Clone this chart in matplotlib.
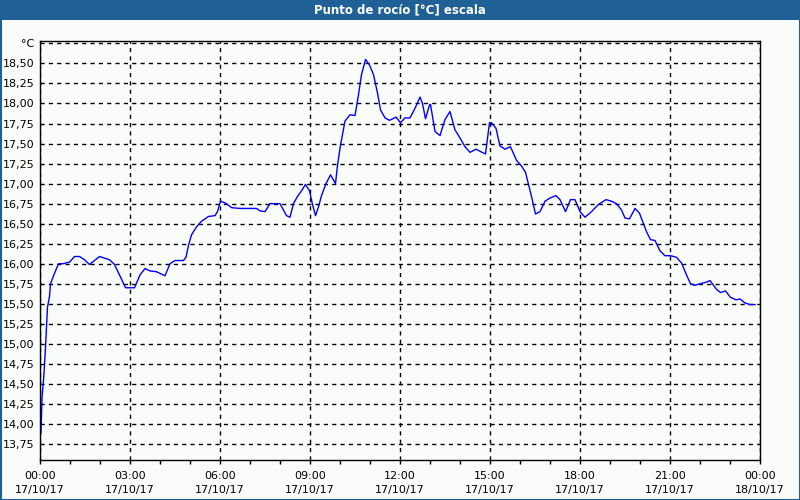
import matplotlib
matplotlib.use("Agg")
import matplotlib.pyplot as plt
from matplotlib.patches import Rectangle
from matplotlib.ticker import FixedLocator, FuncFormatter

# Data: minutes since 17/10/17 00:00 and dew point [°C]
minutes = [2, 4, 8, 11, 15, 19, 21, 29, 37, 46, 59, 69, 79, 89, 99, 109, 119, 129, 139, 149,
           159, 171, 189, 200, 210, 220, 233, 250, 260, 270, 287, 292, 297, 303, 313, 323, 337,
           350, 355, 361, 370, 377, 383, 400, 433, 440, 450, 460, 480, 487, 493, 500, 507, 515,
           523, 531, 539, 545, 551, 557, 563, 572, 581, 591, 595, 601, 610, 620, 630, 637, 643,
           651, 659, 667, 675, 681, 690, 699, 706, 712, 721, 730, 740, 750, 760, 765, 771, 779,
           781, 790, 800, 810, 820, 830, 840, 850, 860, 872, 881, 891, 899, 903, 912, 920, 930,
           941, 953, 963, 971, 983, 991, 1000, 1010, 1020, 1032, 1040, 1051, 1061, 1070, 1080,
           1090, 1103, 1117, 1132, 1143, 1153, 1163, 1170, 1179, 1190, 1199, 1207, 1213, 1221,
           1230, 1240, 1250, 1261, 1273, 1283, 1293, 1301, 1310, 1320, 1333, 1340, 1347, 1353,
           1361, 1371, 1381, 1392, 1400, 1410, 1420, 1430]
dew_point = [13.89, 14.32, 14.63, 14.96, 15.46, 15.59, 15.75, 15.88, 16.00, 16.00, 16.02, 16.09,
             16.09, 16.05, 15.99, 16.04, 16.09, 16.07, 16.05, 15.99, 15.86, 15.70, 15.70, 15.86,
             15.94, 15.91, 15.90, 15.85, 16.00, 16.04, 16.04, 16.08, 16.23, 16.36, 16.46, 16.53,
             16.59, 16.60, 16.65, 16.78, 16.76, 16.73, 16.70, 16.69, 16.69, 16.66, 16.65, 16.75,
             16.75, 16.67, 16.60, 16.58, 16.75, 16.84, 16.91, 16.99, 16.91, 16.74, 16.60, 16.71,
             16.85, 17.00, 17.11, 17.00, 17.23, 17.48, 17.78, 17.86, 17.85, 18.11, 18.36, 18.55,
             18.48, 18.36, 18.13, 17.92, 17.82, 17.79, 17.81, 17.83, 17.76, 17.82, 17.82, 17.94,
             18.08, 18.00, 17.81, 17.98, 17.99, 17.65, 17.60, 17.80, 17.90, 17.67, 17.57, 17.46,
             17.39, 17.43, 17.40, 17.37, 17.76, 17.76, 17.69, 17.47, 17.43, 17.46, 17.29, 17.22,
             17.14, 16.84, 16.62, 16.65, 16.78, 16.82, 16.85, 16.80, 16.65, 16.80, 16.80, 16.65,
             16.58, 16.65, 16.74, 16.80, 16.78, 16.75, 16.67, 16.57, 16.56, 16.69, 16.63, 16.50,
             16.40, 16.30, 16.29, 16.16, 16.10, 16.10, 16.08, 16.01, 15.86, 15.75, 15.73, 15.75,
             15.77, 15.79, 15.73, 15.68, 15.64, 15.66, 15.58, 15.55, 15.56, 15.51, 15.49, 15.49]

y_ticks = [13.75, 14.00, 14.25, 14.50, 14.75, 15.00, 15.25, 15.50, 15.75, 16.00, 16.25,
           16.50, 16.75, 17.00, 17.25, 17.50, 17.75, 18.00, 18.25, 18.50, 18.75]
x_tick_hours = [0, 3, 6, 9, 12, 15, 18, 21, 24]
x_tick_labels = ["00:00\n17/10/17", "03:00\n17/10/17", "06:00\n17/10/17", "09:00\n17/10/17",
                 "12:00\n17/10/17", "15:00\n17/10/17", "18:00\n17/10/17", "21:00\n17/10/17",
                 "00:00\n18/10/17"]
title = "Punto de rocío [°C] escala"
unit = "°C"

bg = "#f9fcf9"
bar = "#1f6196"

fig = plt.figure(figsize=(8, 5), dpi=100, facecolor=bg)
ax = fig.add_axes([40 / 800, 40 / 500, 720 / 800, 419 / 500])
ax.set_facecolor(bg)

hours = [m / 60 for m in minutes]
ax.plot(hours, dew_point, color="#0000ff", lw=1.0)

ax.set_xlim(0, 24)
ax.set_ylim(13.55, 18.78)

ax.yaxis.set_major_locator(FixedLocator(y_ticks))
ax.yaxis.set_major_formatter(FuncFormatter(
    lambda v, p: unit if abs(v - 18.75) < 1e-6 else f"{v:.2f}".replace(".", ",")))
ax.tick_params(axis="y", length=0, pad=4, labelsize=8, colors="black")

ax.set_xticks(x_tick_hours)
ax.set_xticklabels(x_tick_labels, fontsize=8, linespacing=1.45)
ax.set_xticks(range(0, 25), minor=True)
ax.tick_params(axis="x", which="both", direction="out", length=3, width=1, pad=5)

ax.grid(True, which="major", color="black", linestyle=(0, (3, 3)), linewidth=1)
for s in ax.spines.values():
    s.set_color("black")
    s.set_linewidth(1)

# title bar
fig.patches.append(Rectangle((0, 480 / 500), 1, 20 / 500, transform=fig.transFigure,
                             facecolor=bar, edgecolor="none", zorder=0))
fig.text(0.5, 490 / 500, title, color="white", fontsize=8.5, fontweight="bold",
         ha="center", va="center")
# outer border
fig.patches.append(Rectangle((0.5 / 800, 0.5 / 500), 799 / 800, 499 / 500, transform=fig.transFigure,
                             facecolor="none", edgecolor=bar, linewidth=1.5, zorder=5))

fig.savefig("out.png", dpi=100, facecolor=bg)
